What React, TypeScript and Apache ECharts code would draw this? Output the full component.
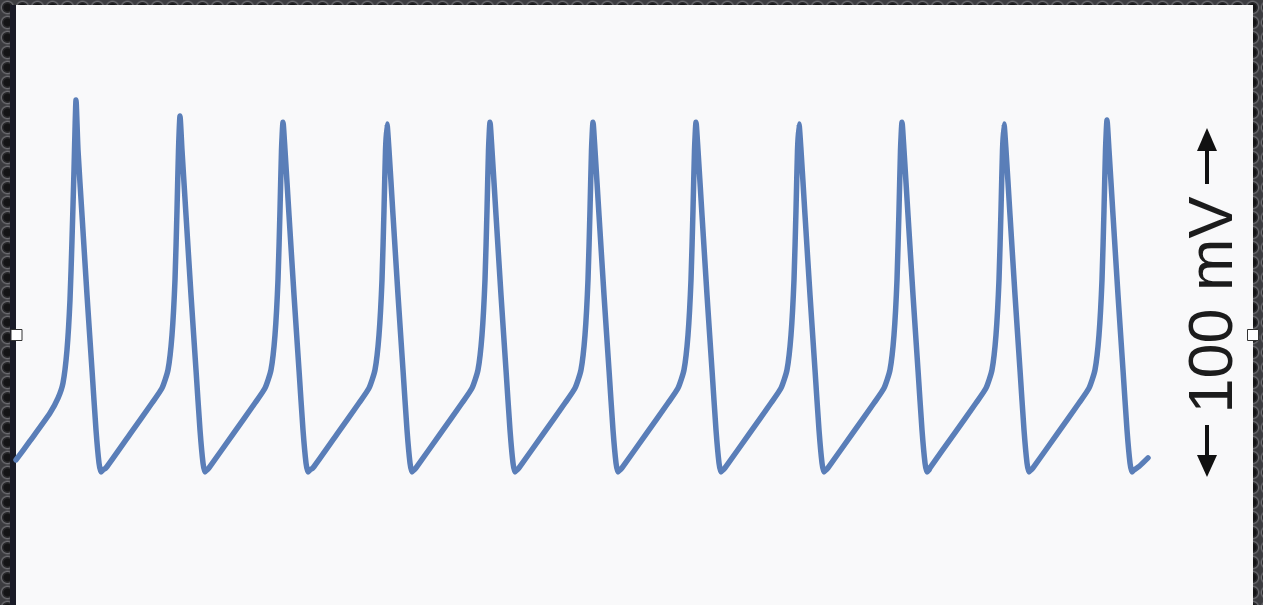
import React, { useEffect, useRef } from "react";
import * as echarts from "echarts";

// time in ms, membrane potential in mV
const spike1: [number, number][] = [
  [0, -71.5], [14, -66.0], [34, -57.9], [42, -53.6], [47, -49.2], [51, -39.6], [54, -25.1],
  [56, -7.8], [58, 12.5], [59, 24.1], [60, 32.8], [62, 18.3], [66, -0.5], [71, -23.7],
  [76, -45.4], [80, -62.8], [83, -72.4], [85, -75.0], [87, -74.4],
];
const spike2: [number, number][] = [
  [90, -73.8], [114, -64.0], [136, -55.0], [146, -50.7], [152, -45.4], [156, -35.3], [159, -19.3],
  [161, 0.9], [162.5, 18.3], [164, 28.2], [166, 18.3], [170, -0.5], [175, -23.7], [180, -45.4],
  [184, -62.8], [187, -72.4], [189, -75.0], [191, -74.4],
];
const spike3: [number, number][] = [
  [193, -73.8], [217, -64.0], [239, -55.0], [249, -50.7], [255, -45.4], [259, -35.3], [262, -19.3],
  [264, 0.9], [265.5, 18.3], [267, 26.4], [269, 18.3], [273, -0.5], [278, -23.7], [283, -45.4],
  [287, -62.8], [290, -72.4], [292, -75.0], [294, -74.4],
];
const spike4: [number, number][] = [
  [297, -73.8], [321, -64.0], [343, -55.0], [353, -50.7], [359, -45.4], [363, -35.3], [366, -19.3],
  [368, 0.9], [369.5, 18.3], [371, 25.9], [373, 18.3], [377, -0.5], [382, -23.7], [387, -45.4],
  [391, -62.8], [394, -72.4], [396, -75.0], [398, -74.4],
];
const spike5: [number, number][] = [
  [400, -73.8], [424, -64.0], [446, -55.0], [456, -50.7], [462, -45.4], [466, -35.3], [469, -19.3],
  [471, 0.9], [472.5, 18.3], [474, 26.4], [476, 18.3], [480, -0.5], [485, -23.7], [490, -45.4],
  [494, -62.8], [497, -72.4], [499, -75.0], [501, -74.4],
];
const spike6: [number, number][] = [
  [503, -73.8], [527, -64.0], [549, -55.0], [559, -50.7], [565, -45.4], [569, -35.3], [572, -19.3],
  [574, 0.9], [575.5, 18.3], [577, 26.4], [579, 18.3], [583, -0.5], [588, -23.7], [593, -45.4],
  [597, -62.8], [600, -72.4], [602, -75.0], [604, -74.4],
];
const spike7: [number, number][] = [
  [606, -73.8], [630, -64.0], [652, -55.0], [662, -50.7], [668, -45.4], [672, -35.3], [675, -19.3],
  [677, 0.9], [678.5, 18.3], [680, 26.4], [682, 18.3], [686, -0.5], [691, -23.7], [696, -45.4],
  [700, -62.8], [703, -72.4], [705, -75.0], [707, -74.4],
];
const spike8: [number, number][] = [
  [709, -73.8], [733, -64.0], [755, -55.0], [765, -50.7], [771, -45.4], [775, -35.3], [778, -19.3],
  [780, 0.9], [781.5, 18.3], [783, 25.9], [785, 18.3], [789, -0.5], [794, -23.7], [799, -45.4],
  [803, -62.8], [806, -72.4], [808, -75.0], [810, -74.4],
];
const spike9: [number, number][] = [
  [812, -73.8], [836, -64.0], [858, -55.0], [868, -50.7], [874, -45.4], [878, -35.3], [881, -19.3],
  [883, 0.9], [884.5, 18.3], [886, 26.4], [888, 18.3], [892, -0.5], [897, -23.7], [902, -45.4],
  [906, -62.8], [909, -72.4], [911, -75.0], [913, -74.4],
];
const spike10: [number, number][] = [
  [914, -73.8], [938, -64.0], [960, -55.0], [970, -50.7], [976, -45.4], [980, -35.3], [983, -19.3],
  [985, 0.9], [986.5, 18.3], [988, 25.9], [990, 18.3], [994, -0.5], [999, -23.7], [1004, -45.4],
  [1008, -62.8], [1011, -72.4], [1013, -75.0], [1015, -74.4],
];
const spike11: [number, number][] = [
  [1017, -73.8], [1041, -64.0], [1063, -55.0], [1073, -50.7], [1079, -45.4], [1083, -35.3], [1086, -19.3],
  [1088, 0.9], [1089.5, 18.3], [1091, 27.0], [1093, 18.3], [1097, -0.5], [1102, -23.7], [1107, -45.4],
  [1111, -62.8], [1114, -72.4], [1116, -75.0], [1118, -74.4], [1123, -73.4], [1132, -70.9],
];

const scaleLabel = "100 mV";

export default function App() {
  const ref = useRef<HTMLDivElement>(null);

  useEffect(() => {
    if (!ref.current) return;
    const chart = echarts.init(ref.current, undefined, { renderer: "svg" });
    const trace = [
      ...spike1, ...spike2, ...spike3, ...spike4, ...spike5, ...spike6,
      ...spike7, ...spike8, ...spike9, ...spike10, ...spike11,
    ];
    chart.setOption({
      animation: false,
      grid: { left: 16, right: 10, top: 40.75, bottom: 12.25 },
      xAxis: {
        type: "value", min: 0, max: 1237,
        axisLine: { show: false }, axisTick: { show: false },
        axisLabel: { show: false }, splitLine: { show: false },
      },
      yAxis: {
        type: "value", min: -110, max: 50,
        axisLine: { show: false }, axisTick: { show: false },
        axisLabel: { show: false }, splitLine: { show: false },
      },
      series: [
        {
          type: "line",
          data: trace,
          showSymbol: false,
          smooth: 0.2,
          lineStyle: { color: "#5a7eb8", width: 5.5, join: "round", cap: "round" },
        },
      ],
      graphic: [
        { type: "line", shape: { x1: 1207, y1: 184, x2: 1207, y2: 148 }, style: { stroke: "#111", lineWidth: 4 } },
        { type: "polygon", shape: { points: [[1207, 128], [1197, 151], [1217, 151]] }, style: { fill: "#111" } },
        { type: "line", shape: { x1: 1207, y1: 425, x2: 1207, y2: 458 }, style: { stroke: "#111", lineWidth: 4 } },
        { type: "polygon", shape: { points: [[1207, 477], [1197, 455], [1217, 455]] }, style: { fill: "#111" } },
        {
          type: "text", x: 1210, y: 305, rotation: Math.PI / 2,
          style: {
            text: scaleLabel, fill: "#1c1c1c", font: "63px 'Liberation Sans', Arial, sans-serif",
            textAlign: "center", textVerticalAlign: "middle",
          },
        },
        { type: "rect", shape: { x: 11, y: 329.5, width: 11, height: 11 }, style: { fill: "#fff", stroke: "#333", lineWidth: 1 } },
        { type: "rect", shape: { x: 1247.5, y: 329.5, width: 11, height: 11 }, style: { fill: "#fff", stroke: "#333", lineWidth: 1 } },
      ],
    });
    return () => chart.dispose();
  }, []);

  return (
    <div
      style={{
        position: "fixed", left: 0, top: 0, width: 1263, height: 605, overflow: "hidden",
        backgroundColor: "#3a3a3e",
        backgroundImage:
          "radial-gradient(circle, #141416 0 3.5px, #2a2a2d 4.5px 5px, #6b6b70 6px, #3c3c40 7.5px)",
        backgroundSize: "15px 15px",
      }}
    >
      <div style={{ position: "absolute", left: 10, top: 5, width: 6, height: 600, background: "#1a1b27" }} />
      <div style={{ position: "absolute", left: 16, top: 5, width: 1237, height: 600, background: "#f9f9fa" }} />
      <div ref={ref} style={{ position: "absolute", left: 0, top: 0, width: 1263, height: 605 }} />
    </div>
  );
}
